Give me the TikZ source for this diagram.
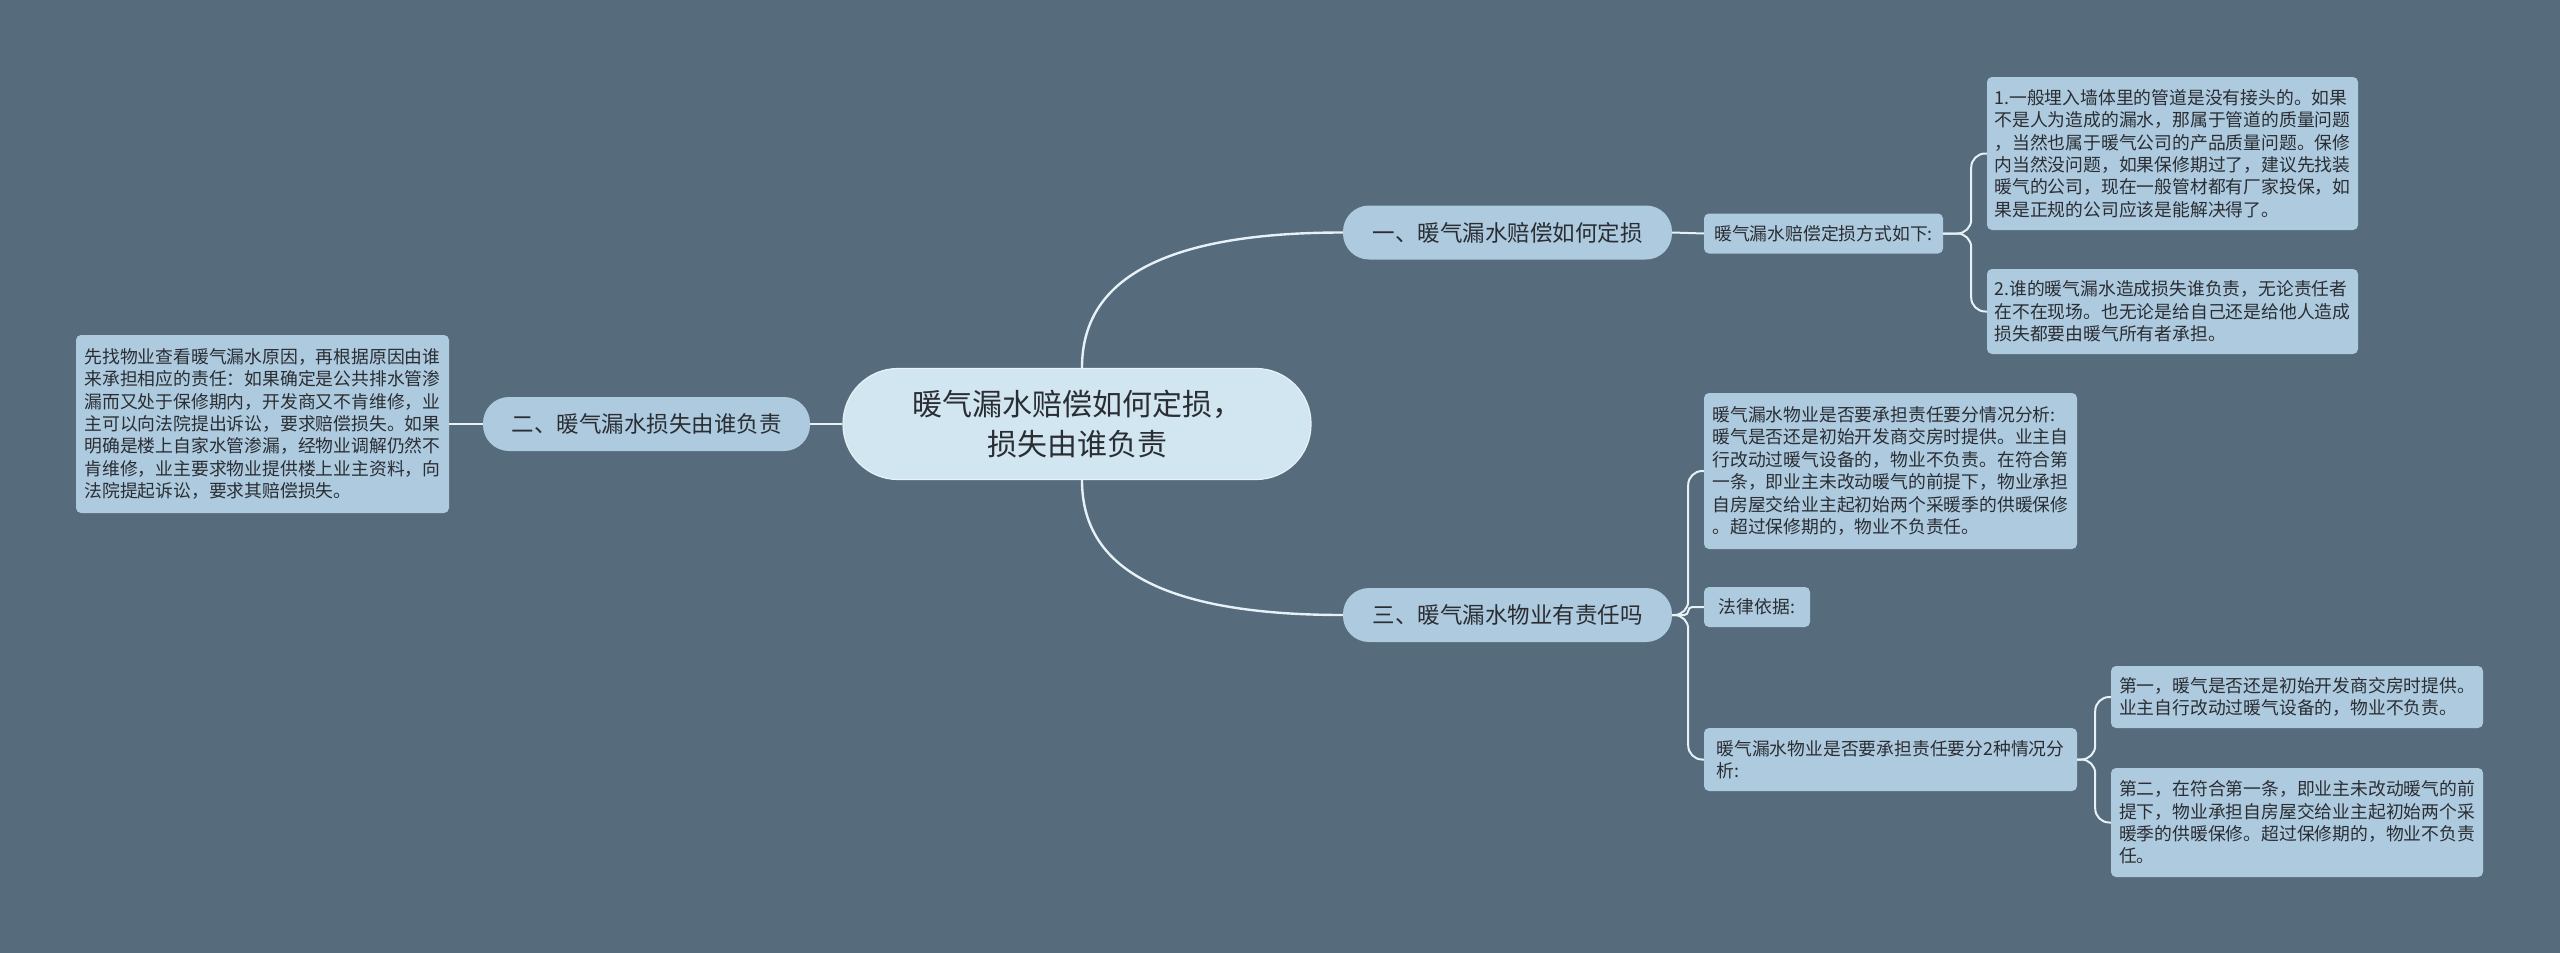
\documentclass[tikz,border=0pt]{standalone}
\usepackage{fontspec}
\newfontfamily\cjk{Noto Sans CJK SC}
\definecolor{bgc}{HTML}{566B7B}
\definecolor{leafc}{HTML}{AECADF}
\definecolor{rootc}{HTML}{D2E6F2}
\definecolor{linec}{HTML}{E6F1F8}
\definecolor{txtc}{HTML}{2A2E33}
\tikzset{
  leaf/.style={fill=leafc, rounded corners=5pt, inner sep=0pt, align=left, text=txtc,
    font=\cjk\fontsize{17.8}{22.4}\selectfont},
  branch/.style={fill=leafc, rounded corners=26pt, inner sep=0pt, align=center, text=txtc,
    minimum width=329pt, minimum height=54pt, font=\cjk\fontsize{22.5}{27}\selectfont},
  rootbox/.style={fill=rootc, draw=linec, line width=1.2pt, rounded corners=55pt, inner sep=0pt,
    align=center, text=txtc, minimum width=468pt, minimum height=111pt,
    font=\cjk\fontsize{30}{40}\selectfont},
  mainconn/.style={draw=linec, line width=2.4pt},
  conn/.style={draw=linec, line width=2pt, rounded corners=14pt},
}
\begin{document}
\begin{tikzpicture}[x=1pt,y=-1pt]
\fill[bgc] (0,0) rectangle (2560,953);
\useasboundingbox (0,0) rectangle (2560,953);

\node[rootbox] (root) at (1077,424) {暖气漏水赔偿如何定损，\\损失由谁负责};

\node[branch] (b1) at (1507.5,232.5) {一、暖气漏水赔偿如何定损};
\node[branch] (b3) at (1507.5,615) {三、暖气漏水物业有责任吗};
\node[branch, minimum width=327pt] (b2) at (646.5,424) {二、暖气漏水损失由谁负责};

\node[leaf, minimum width=239pt, minimum height=40pt] (l0) at (1823.5,233.5) {暖气漏水赔偿定损方式如下:};
\node[leaf, minimum width=371pt, minimum height=153pt] (l1) at (2172.5,153.5) {1.一般埋入墙体里的管道是没有接头的。如果\\不是人为造成的漏水，那属于管道的质量问题\\，当然也属于暖气公司的产品质量问题。保修\\内当然没问题，如果保修期过了，建议先找装\\暖气的公司，现在一般管材都有厂家投保，如\\果是正规的公司应该是能解决得了。};
\node[leaf, minimum width=371pt, minimum height=85pt] (l2) at (2172.5,311.5) {2.谁的暖气漏水造成损失谁负责，无论责任者\\在不在现场。也无论是给自己还是给他人造成\\损失都要由暖气所有者承担。};

\node[leaf, minimum width=373pt, minimum height=156pt] (a1) at (1890.5,471) {暖气漏水物业是否要承担责任要分情况分析:\\暖气是否还是初始开发商交房时提供。业主自\\行改动过暖气设备的，物业不负责。在符合第\\一条，即业主未改动暖气的前提下，物业承担\\自房屋交给业主起初始两个采暖季的供暖保修\\。超过保修期的，物业不负责任。};
\node[leaf, minimum width=106pt, minimum height=40pt] (a2) at (1757,607) {法律依据:};
\node[leaf, minimum width=373pt, minimum height=63pt] (a3) at (1890.5,759.5) {暖气漏水物业是否要承担责任要分2种情况分\\析:};

\node[leaf, minimum width=372pt, minimum height=62pt] (c1) at (2297,697) {第一，暖气是否还是初始开发商交房时提供。\\业主自行改动过暖气设备的，物业不负责。};
\node[leaf, minimum width=372pt, minimum height=109pt] (c2) at (2297,822.5) {第二，在符合第一条，即业主未改动暖气的前\\提下，物业承担自房屋交给业主起初始两个采\\暖季的供暖保修。超过保修期的，物业不负责\\任。};

\node[leaf, minimum width=373pt, minimum height=178pt] (lf) at (262.5,424) {先找物业查看暖气漏水原因，再根据原因由谁\\来承担相应的责任：如果确定是公共排水管渗\\漏而又处于保修期内，开发商又不肯维修，业\\主可以向法院提出诉讼，要求赔偿损失。如果\\明确是楼上自家水管渗漏，经物业调解仍然不\\肯维修，业主要求物业提供楼上业主资料，向\\法院提起诉讼，要求其赔偿损失。};

% main connectors
\draw[mainconn] (root.north -| 1082,0) .. controls ++(0,-69) and (1130,232.5) .. (b1.west);
\draw[mainconn] (root.south -| 1082,0) .. controls ++(0,69) and (1130,615) .. (b3.west);
\draw[mainconn] (root.west) -- (b2.east);
\draw[conn] (b2.west) -- (lf.east);

% branch 1
\draw[conn] (b1.east) -- (l0.west);
\draw[conn] (l0.east) -- ++(28,0) |- (l1.west);
\draw[conn] (l0.east) -- ++(28,0) |- (l2.west);

% branch 3
\draw[conn] (b3.east) -- ++(16,0) |- (a1.west);
\draw[conn, rounded corners=4pt] (b3.east) -- ++(16,0) |- (a2.west);
\draw[conn] (b3.east) -- ++(16,0) |- (a3.west);

\draw[conn] (a3.east) -- ++(18,0) |- (c1.west);
\draw[conn] (a3.east) -- ++(18,0) |- (c2.west);
\end{tikzpicture}
\end{document}
